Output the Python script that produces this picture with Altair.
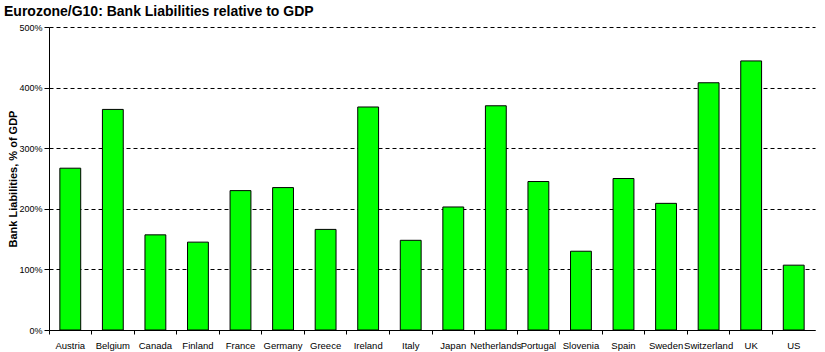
import altair as alt
import pandas as pd

countries = ["Austria", "Belgium", "Canada", "Finland", "France", "Germany", "Greece",
             "Ireland", "Italy", "Japan", "Netherlands", "Portugal", "Slovenia", "Spain",
             "Sweden", "Switzerland", "UK", "US"]
liabilities_pct = [267, 364, 157, 145, 230, 235, 166, 368, 148, 203, 370, 245, 130, 250,
                   209, 408, 444, 107]
y_ticks = [0, 1, 2, 3, 4, 5]

df = pd.DataFrame({"country": countries, "value": [v / 100 for v in liabilities_pct]})

bars = alt.Chart(df).mark_bar(
    color="#00FF00", stroke="black", strokeWidth=1, width={"band": 0.49}
).encode(
    x=alt.X("country:N", sort=countries, title=None,
            scale=alt.Scale(paddingInner=0, paddingOuter=0),
            axis=alt.Axis(labelAngle=0, labelFont="Liberation Sans", labelFontSize=9.5,
                          labelColor="black", labelOverlap=False, labelPadding=6,
                          domainColor="black", tickColor="black", tickSize=4,
                          bandPosition=0, labelBound=False)),
    y=alt.Y("value:Q", title="Bank Liabilities, % of GDP",
            scale=alt.Scale(domain=[0, 5], nice=False),
            axis=alt.Axis(values=y_ticks, format=".0%", labelFont="Liberation Sans",
                          labelFontSize=9, labelColor="black", tickColor="black",
                          tickSize=5, domainColor="black", grid=True, gridColor="black",
                          gridDash=[4, 3], gridOpacity=1, titleFont="Liberation Sans",
                          titleFontSize=11, titleFontWeight="bold", titleColor="black",
                          titlePadding=0))
)

chart = bars.properties(
    width=766, height=303,
    padding={"left": 49, "top": 27, "right": 10, "bottom": 22},
    autosize=alt.AutoSizeParams(type="none"),
    title=alt.TitleParams("Eurozone/G10: Bank Liabilities relative to GDP", anchor="start",
                          frame="group", dx=-45, offset=4, font="Liberation Sans",
                          fontSize=14, fontWeight="bold", color="black")
).configure_view(stroke=None).configure_axis(
    gridWidth=1
).configure_axisX(grid=False)

chart.save("out.html", embed_options={"renderer": "svg", "actions": False})
